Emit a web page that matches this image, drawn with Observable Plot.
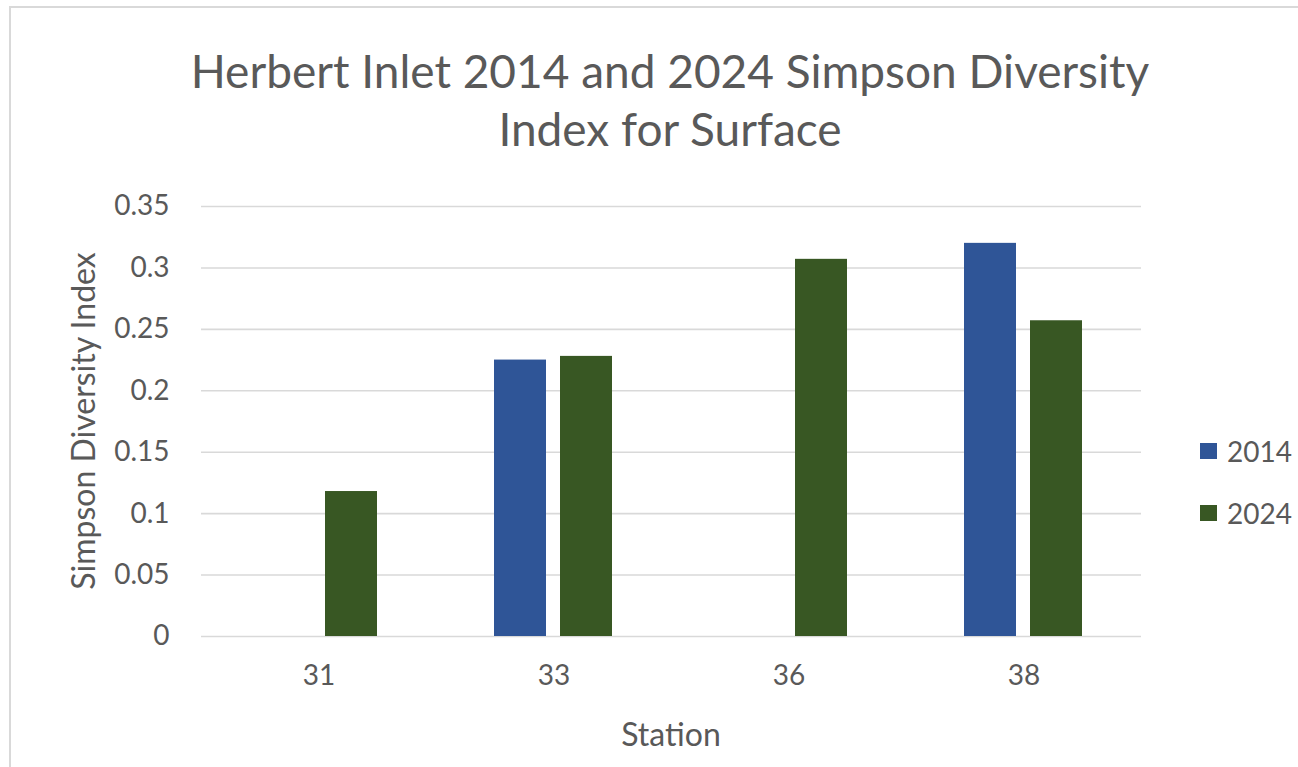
<!DOCTYPE html>
<html><head><meta charset="utf-8">
<script src="https://cdn.jsdelivr.net/npm/d3@7"></script>
<script src="https://cdn.jsdelivr.net/npm/@observablehq/plot@0.6"></script>
<style>
html,body{margin:0;padding:0;background:#fff;}
body{width:1298px;height:767px;position:relative;overflow:hidden;font-family:Lato,"Open Sans",sans-serif;color:#595959;}
#frame{position:absolute;left:9px;top:6px;width:1400px;height:900px;border-left:2px solid #d9d9d9;border-top:2px solid #d9d9d9;}
#title{position:absolute;left:0;width:1340px;top:42px;text-align:center;font-size:46px;line-height:58px;}
#chart{position:absolute;left:0;top:0;}
.axt{position:absolute;font-size:32px;white-space:nowrap;}
#ylab{left:82px;top:421px;transform:translate(-50%,-50%) rotate(-90deg);}
#xlab{left:671px;top:733px;transform:translate(-50%,-50%);}
#legend{position:absolute;left:1200px;top:435px;font-size:28px;}
.li{display:flex;align-items:center;height:32px;margin-bottom:30px;}
.sw{width:17px;height:16px;margin-right:10px;}
</style></head><body>
<div id="frame"></div>
<div id="title">Herbert Inlet 2014 and 2024 Simpson Diversity<br>Index for Surface</div>
<div id="chart"></div>
<div class="axt" id="ylab">Simpson Diversity Index</div>
<div class="axt" id="xlab">Station</div>
<div id="legend"></div>
<script>
const stations = ["31", "33", "36", "38"];
const years = ["2014", "2024"];
const values2014 = [null, 0.225, null, 0.320];
const values2024 = [0.118, 0.228, 0.307, 0.257];
const yearColors = ["#2F5597", "#385723"];
const yTicks = [0, 0.05, 0.1, 0.15, 0.2, 0.25, 0.3, 0.35];
const yTickLabels = ["0", "0.05", "0.1", "0.15", "0.2", "0.25", "0.3", "0.35"];

const data = [];
stations.forEach((s, i) => {
  if (values2014[i] != null) data.push({station: s, year: years[0], value: values2014[i]});
  if (values2024[i] != null) data.push({station: s, year: years[1], value: values2024[i]});
});

const chart = Plot.plot({
  width: 1298,
  height: 767,
  marginLeft: 200,
  marginRight: 156,
  marginTop: 206,
  marginBottom: 131,
  style: {fontFamily: "Lato, 'Open Sans', sans-serif", fontSize: "28px", color: "#595959", background: "transparent", overflow: "visible"},
  fx: {domain: stations, padding: 0, label: null},
  x: {domain: years, paddingInner: 0.209, paddingOuter: 0.862, axis: null},
  y: {domain: [0, 0.35]},
  color: {domain: years, range: yearColors},
  marks: [
    Plot.gridY(yTicks, {stroke: "#d9d9d9", strokeOpacity: 1, strokeWidth: 1.6}),
    Plot.axisY(yTicks, {tickSize: 0, tickPadding: 32, label: null, fontSize: 28, tickFormat: (d) => yTickLabels[yTicks.indexOf(d)], fill: "#595959"}),
    Plot.axisFx({anchor: "bottom", tickSize: 0, tickPadding: 29, label: null, fontSize: 28, fill: "#595959"}),
    Plot.barY(data, {fx: "station", x: "year", y: "value", fill: "year"})
  ]
});
document.getElementById("chart").appendChild(chart);

const legend = document.getElementById("legend");
years.forEach((y, i) => {
  const row = document.createElement("div");
  row.className = "li";
  row.innerHTML = `<span class="sw" style="background:${yearColors[i]}"></span><span>${y}</span>`;
  legend.appendChild(row);
});
</script>
</body></html>
